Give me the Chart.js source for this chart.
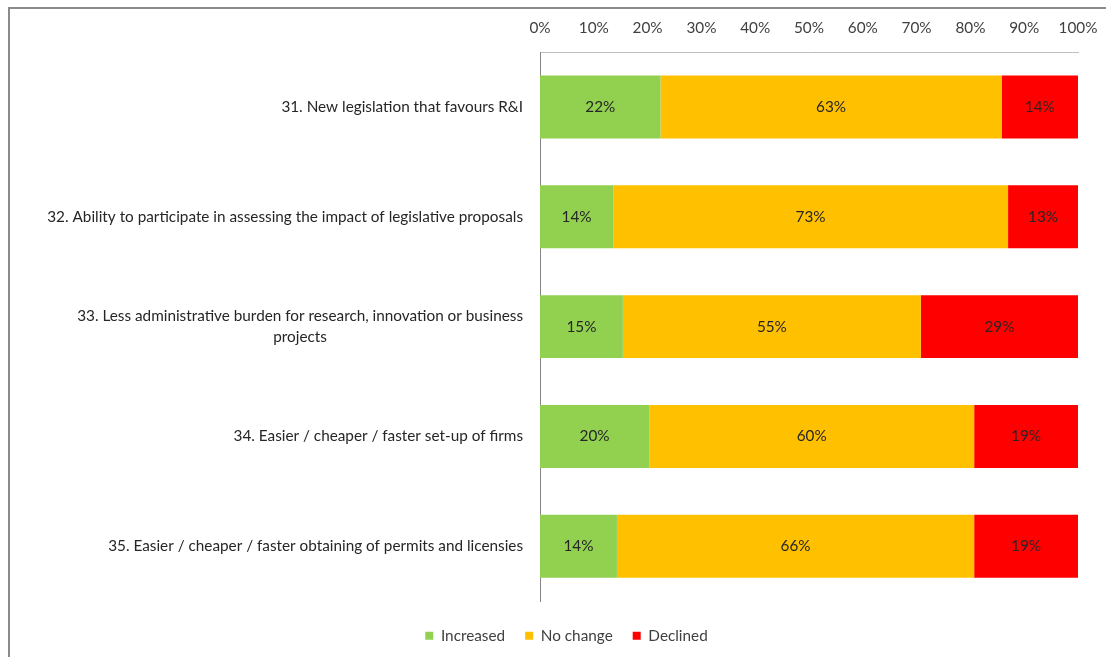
<!DOCTYPE html>
<html><head><meta charset="utf-8">
<script src="https://cdn.jsdelivr.net/npm/chart.js@4"></script>
<style>
html,body{margin:0;padding:0;background:#fff;overflow:hidden;width:1106px;height:657px;}
#frame{position:absolute;left:8px;top:7px;width:1200px;height:800px;border-left:2px solid #8a8a8a;border-top:2px solid #8a8a8a;}
#c{position:absolute;left:0;top:0;}
</style></head><body>
<div id="frame"></div>
<canvas id="c" width="1106" height="657"></canvas>
<script>
const categories = [
  "31. New legislation that favours R&I",
  "32. Ability to participate in assessing the impact of legislative proposals",
  ["33. Less administrative burden for research, innovation or business", "projects"],
  "34. Easier / cheaper / faster set-up of firms",
  "35. Easier / cheaper / faster obtaining of permits and licensies"
];
const seriesNames = ["Increased", "No change", "Declined"];
const increased = [22.4, 13.6, 15.4, 20.3, 14.3];
const noChange  = [63.4, 73.4, 55.4, 60.4, 66.4];
const declined  = [14.2, 13.0, 29.2, 19.3, 19.3];
const tickValues = [0, 10, 20, 30, 40, 50, 60, 70, 80, 90, 100];

const FONT = 'Lato, "Noto Sans", sans-serif';
const FS = 15.3;
const colors = ["#92D050", "#FFC000", "#FF0000"];

const valueLabels = {
  id: 'valueLabels',
  afterDatasetsDraw(chart) {
    const ctx = chart.ctx;
    ctx.save();
    ctx.font = FS + 'px ' + FONT;
    ctx.fillStyle = '#262626';
    ctx.textAlign = 'center';
    ctx.textBaseline = 'middle';
    chart.data.datasets.forEach((ds, di) => {
      chart.getDatasetMeta(di).data.forEach((el, i) => {
        const cx = (el.x + el.base) / 2;
        ctx.fillText(Math.round(ds.data[i]) + '%', cx, el.y);
      });
    });
    ctx.restore();
  }
};

const categoryLabels = {
  id: 'categoryLabels',
  afterDraw(chart) {
    const ctx = chart.ctx;
    const ys = chart.scales.y;
    ctx.save();
    ctx.font = FS + 'px ' + FONT;
    ctx.fillStyle = '#262626';
    ctx.textAlign = 'center';
    ctx.textBaseline = 'middle';
    const right = chart.chartArea.left - 17;
    const lh = 21;
    chart.data.labels.forEach((lab, i) => {
      const lines = Array.isArray(lab) ? lab : [lab];
      const w = Math.max(...lines.map(l => ctx.measureText(l).width));
      const cx = right - w / 2;
      const cy = ys.getPixelForTick(i);
      lines.forEach((l, k) => {
        ctx.fillText(l, cx, cy + (k - (lines.length - 1) / 2) * lh);
      });
    });
    ctx.restore();
  }
};

new Chart(document.getElementById('c'), {
  type: 'bar',
  data: {
    labels: categories,
    datasets: [
      { label: seriesNames[0], data: increased, backgroundColor: colors[0] },
      { label: seriesNames[1], data: noChange, backgroundColor: colors[1] },
      { label: seriesNames[2], data: declined, backgroundColor: colors[2] }
    ]
  },
  options: {
    indexAxis: 'y',
    responsive: false,
    animation: false,
    devicePixelRatio: 1,
    layout: { padding: { left: 55, right: 28, top: 0, bottom: 3.5 } },
    datasets: { bar: { categoryPercentage: 1, barPercentage: 0.573, borderWidth: 0 } },
    scales: {
      x: {
        position: 'top',
        stacked: true,
        min: 0, max: 100,
        afterBuildTicks(scale) { scale.ticks = tickValues.map(v => ({ value: v })); },
        afterFit(scale) { scale.height = 52; scale.paddingLeft = 0; scale.paddingRight = 0; },
        grid: { display: false, drawTicks: false },
        border: { display: true, color: '#BFBFBF', width: 1 },
        ticks: {
          padding: 15,
          color: '#404040',
          font: { family: FONT, size: FS },
          maxRotation: 0,
          autoSkip: false,
          callback: v => v + '%'
        }
      },
      y: {
        stacked: true,
        afterFit(scale) { scale.width = 485; },
        grid: { display: false, drawTicks: false },
        border: { display: true, color: '#868686', width: 1 },
        ticks: { display: false }
      }
    },
    plugins: {
      tooltip: { enabled: false },
      legend: {
        position: 'bottom',
        title: { display: true, text: ' ', font: { size: 5, lineHeight: 1 }, padding: { top: 2, bottom: 0 } },
        labels: {
          boxWidth: 8, boxHeight: 8, padding: 20,
          color: '#404040',
          font: { family: FONT, size: FS }
        }
      }
    }
  },
  plugins: [valueLabels, categoryLabels]
});
</script>
</body></html>
